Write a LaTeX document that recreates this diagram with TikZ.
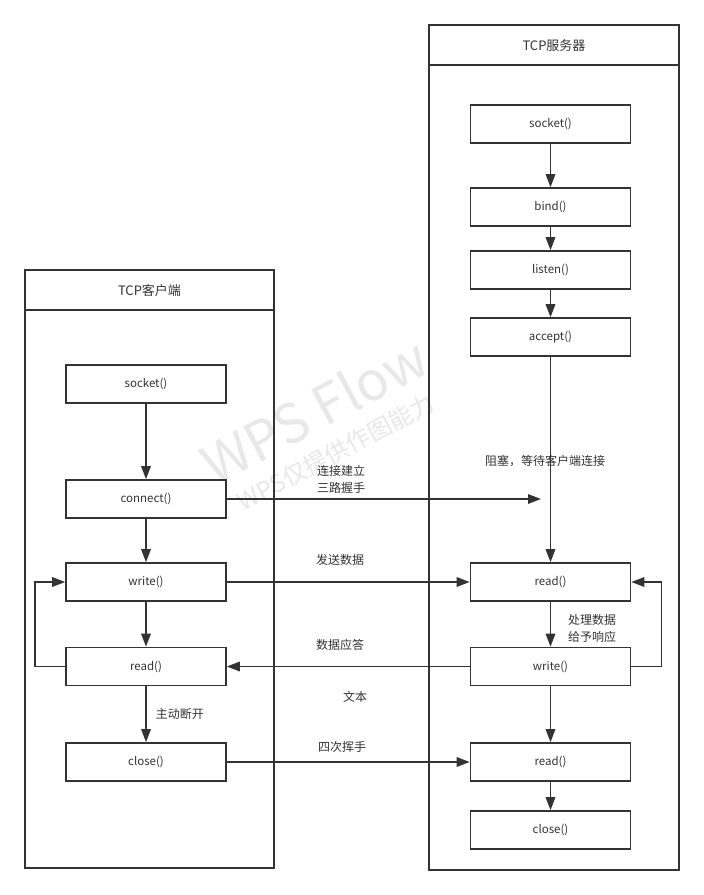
\documentclass[tikz,border=0pt]{standalone}
\usepackage{fontspec}
\setmainfont{Noto Sans CJK SC}
\usetikzlibrary{arrows.meta}
\definecolor{ink}{HTML}{333333}
\definecolor{wm}{HTML}{E8E8E8}
\tikzset{
  box/.style={draw=ink, line width=1.6pt, fill=white, minimum width=160pt, minimum height=38pt, inner sep=0pt, font=\fontsize{11.5}{13}\selectfont, text=ink},
  arr/.style={draw=ink, line width=1.6pt, -{Triangle[length=13pt,width=9.5pt]}},
  lbl/.style={font=\fontsize{12}{17}\selectfont, text=ink, align=left, inner sep=0pt},
  frame/.style={draw=ink, line width=1.6pt},
  wmark/.style={text=wm, rotate=28, inner sep=0pt},
}
\begin{document}
\begin{tikzpicture}[x=1pt,y=-1pt]
\useasboundingbox (0,0) rectangle (704,895);
\fill[white] (0,0) rectangle (704,895);
% watermark
\node[wmark, font=\fontsize{54}{54}\selectfont] (wm1) at (314,410) {WPS Flow};
\node[wmark, font=\fontsize{24}{24}\selectfont] (wm2) at (336,452) {WPS仅提供作图能力};
% containers
\draw[frame] (25,270) rectangle (274,868);
\draw[frame] (25,310) -- (274,310);
\node[lbl, font=\fontsize{13}{15}\selectfont] (ct) at (149.5,291) {TCP客户端};
\draw[frame] (429,25) rectangle (679,870);
\draw[frame] (429,65) -- (679,65);
\node[lbl, font=\fontsize{13}{15}\selectfont] (st) at (554,46) {TCP服务器};
% client nodes
\node[box] (csock) at (146,384) {socket()};
\node[box] (cconn) at (146,499) {connect()};
\node[box] (cwrite) at (146,582) {write()};
\node[box] (cread) at (146,666.5) {read()};
\node[box] (cclose) at (146,762) {close()};
% server nodes
\node[box] (ssock) at (550.5,124) {socket()};
\node[box] (sbind) at (550.5,207) {bind()};
\node[box] (slisten) at (550.5,270) {listen()};
\node[box] (saccept) at (550.5,337) {accept()};
\node[box] (sread) at (550.5,582) {read()};
\node[box] (swrite) at (550.5,666.5) {write()};
\node[box] (sread2) at (550.5,762) {read()};
\node[box] (sclose) at (550.5,830) {close()};
% client flow
\draw[arr] (csock) -- (cconn);
\draw[arr] (cconn) -- (cwrite);
\draw[arr] (cwrite) -- (cread);
\draw[arr] (cread) -- node[lbl, right=9pt] (l1) {主动断开} (cclose);
\draw[arr] (cread.west) -- ++(-30,0) |- (cwrite.west);
% server flow
\draw[arr] (ssock) -- (sbind);
\draw[arr] (sbind) -- (slisten);
\draw[arr] (slisten) -- (saccept);
\draw[arr] (saccept) -- (sread);
\node[lbl] (l2) at (545,461) {阻塞，等待客户端连接};
\draw[arr] (sread) -- (swrite);
\node[lbl] (l3) at (592,628.5) {处理数据\\给予响应};
\draw[arr] (swrite) -- (sread2);
\draw[arr] (sread2) -- (sclose);
\draw[arr] (swrite.east) -- ++(30,0) |- (sread.east);
% cross connections
\coordinate (hs) at (541,499);
\draw[arr] (cconn.east) -- (hs);
\node[lbl] (l4) at (341,479.5) {连接建立\\三路握手};
\draw[arr] (cwrite.east) -- (sread.west);
\node[lbl] (l5) at (340,560) {发送数据};
\draw[arr] (swrite.west) -- (cread.east);
\node[lbl] (l6) at (340,645) {数据应答};
\node[lbl] (l7) at (355,697) {文本};
\draw[arr] (cclose.east) -- (sread2.west);
\node[lbl] (l8) at (342,747) {四次挥手};
\end{tikzpicture}
\end{document}
